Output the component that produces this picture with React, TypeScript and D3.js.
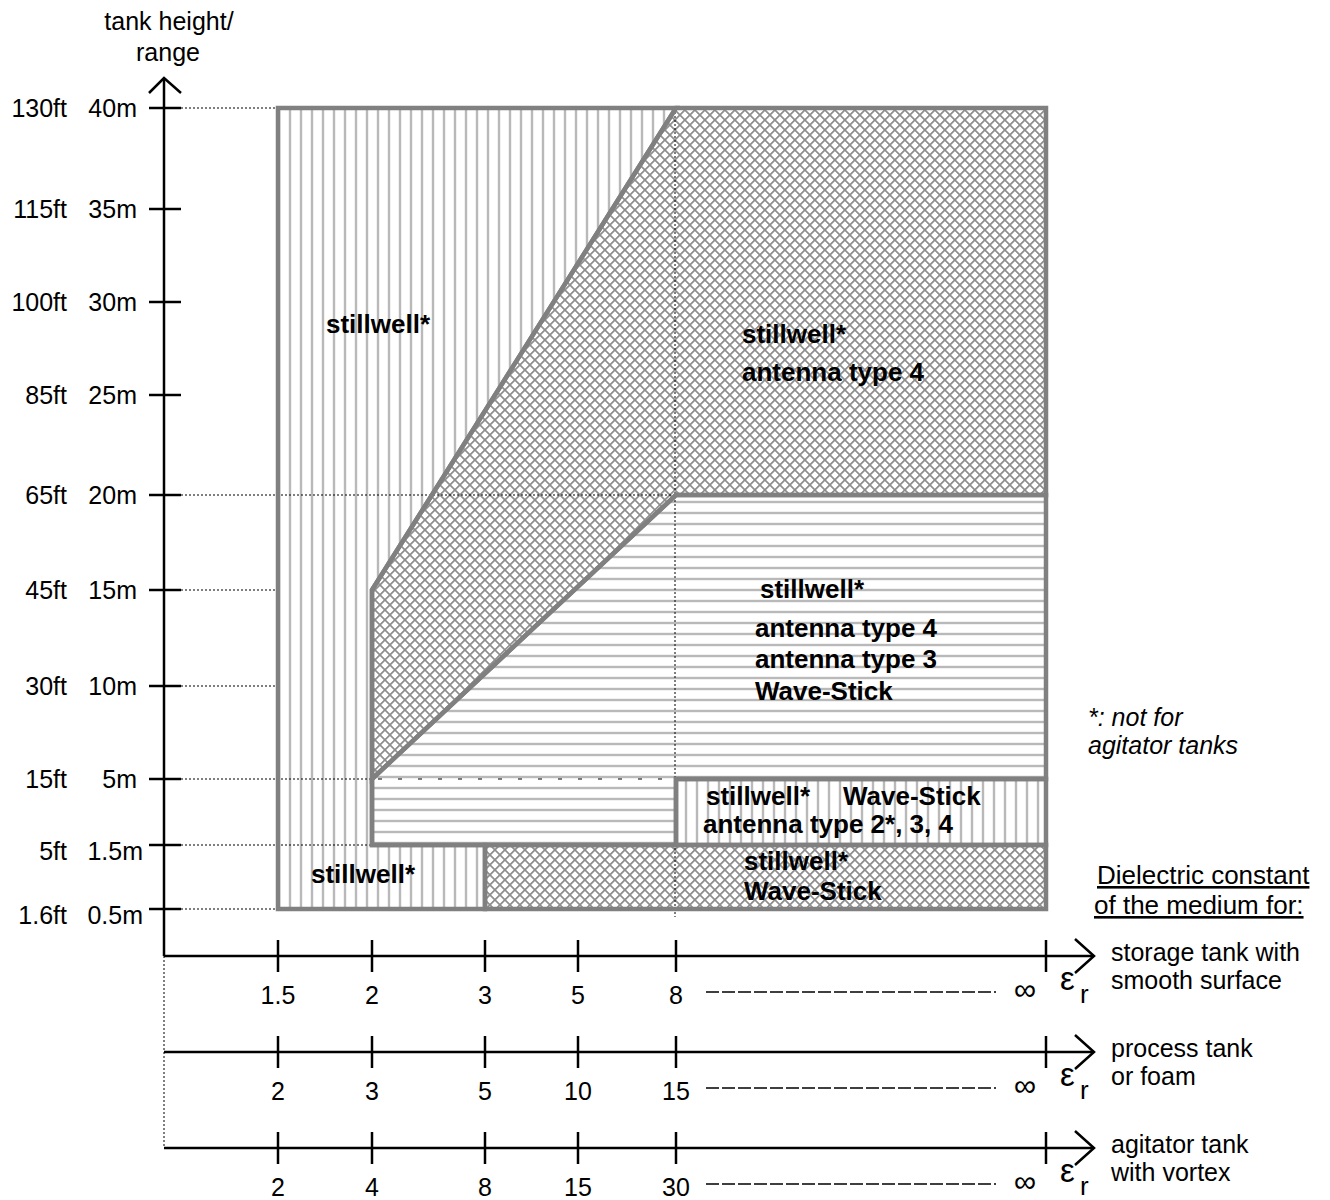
import React from 'react';
import * as d3 from 'd3';

// ---- data ----
const heightM = [0.5, 1.5, 5, 10, 15, 20, 25, 30, 35, 40];
const heightMLabels = ['0.5m', '1.5m', '5m', '10m', '15m', '20m', '25m', '30m', '35m', '40m'];
const heightFtLabels = ['1.6ft', '5ft', '15ft', '30ft', '45ft', '65ft', '85ft', '100ft', '115ft', '130ft'];

const columnIdx = [0, 1, 2, 3, 4, 5];
const storageEps = ['1.5', '2', '3', '5', '8', '∞'];
const processEps = ['2', '3', '5', '10', '15', '∞'];
const agitatorEps = ['2', '4', '8', '15', '30', '∞'];
const mediumAxes = [storageEps, processEps, agitatorEps];
const mediumLabels = [
  ['storage tank with', 'smooth surface'],
  ['process tank', 'or foam'],
  ['agitator tank', 'with vortex'],
];

// regions: [column index, height in m]
const regionStillwell: [number, number][] = [[0, 40], [4, 40], [1, 15], [1, 1.5], [2, 1.5], [2, 0.5], [0, 0.5]];
const regionAntenna4: [number, number][] = [[4, 40], [5, 40], [5, 20], [4, 20], [1, 5], [1, 15]];
const regionAllTypes: [number, number][] = [[1, 5], [4, 20], [5, 20], [5, 5], [4, 5], [4, 1.5], [1, 1.5]];
const regionSmallBox: [number, number][] = [[4, 5], [5, 5], [5, 1.5], [4, 1.5]];
const regionLowCross: [number, number][] = [[2, 1.5], [5, 1.5], [5, 0.5], [2, 0.5]];

// dotted guide lines: height -> column index they reach
const guideHeights = [40, 20, 15, 10, 5, 1.5, 0.5];
const guideEndCol = [0, 4, 0, 0, 1, 1, 0];
// dashed extensions: [height, fromCol, toCol]
const dashedExt: [number, number, number][] = [[5, 1, 4], [1.5, 1, 2]];

// ---- layout ----
const W = 1330, H = 1200;
const x = d3.scaleLinear().domain(columnIdx).range([278, 372, 485, 578, 676, 1046]);
const y = d3.scaleLinear().domain(heightM).range([909, 845, 779, 686, 590, 495, 395, 302, 209, 108]);
const axisX = 164;
const xAxisY = [956, 1052, 1148];
const xAxisEnd = 1094;

const line = d3.line<[number, number]>().x(d => x(d[0])).y(d => y(d[1]));
const poly = (p: [number, number][]) => line(p) + 'Z';

const FONT = 'Liberation Sans, Arial, Helvetica, sans-serif';
const BORDER = '#808080';
const HATCH = '#8e8e8e';

export default function App() {
  const boldLabel = (t: string, px: number, py: number, key: string) => (
    <text key={key} x={px} y={py} fontSize={26} fontWeight="bold" fill="#000">{t}</text>
  );
  return (
    <svg width={W} height={H} style={{ position: 'absolute', left: 0, top: 0, background: '#fff' }}
      fontFamily={FONT}>
      <defs>
        <pattern id="vh" patternUnits="userSpaceOnUse" x={290 - 5.5} y={0} width={11} height={11}>
          <rect width={11} height={11} fill="#fff" />
          <line x1={5.5} y1={0} x2={5.5} y2={11} stroke={HATCH} strokeWidth={1.5} />
        </pattern>
        <pattern id="hh" patternUnits="userSpaceOnUse" x={0} y={502 - 5.5} width={11} height={11}>
          <rect width={11} height={11} fill="#fff" />
          <line x1={0} y1={5.5} x2={11} y2={5.5} stroke={HATCH} strokeWidth={1.5} />
        </pattern>
        <pattern id="ch" patternUnits="userSpaceOnUse" width={7.07} height={7.07} patternTransform="rotate(45)">
          <rect width={7.07} height={7.07} fill="#fff" />
          <line x1={3.535} y1={0} x2={3.535} y2={7.07} stroke={HATCH} strokeWidth={1.8} />
          <line x1={0} y1={3.535} x2={7.07} y2={3.535} stroke={HATCH} strokeWidth={1.8} />
        </pattern>
      </defs>

      <rect width={W} height={H} fill="#fff" />

      {/* fills */}
      <path d={poly(regionStillwell)} fill="url(#vh)" />
      <path d={poly(regionAntenna4)} fill="url(#ch)" />
      <path d={poly(regionAllTypes)} fill="url(#hh)" />
      <path d={poly(regionSmallBox)} fill="url(#vh)" />
      <path d={poly(regionLowCross)} fill="url(#ch)" />

      {/* dotted guides */}
      {guideHeights.map((h, i) => (
        <line key={'g' + i} x1={181} x2={x(guideEndCol[i])} y1={y(h)} y2={y(h)}
          stroke="#000" strokeWidth={1} strokeDasharray="2 2" />
      ))}
      {dashedExt.map(([h, c0, c1], i) => (
        <line key={'d' + i} x1={x(c0) + 6} x2={x(c1)} y1={y(h)} y2={y(h)}
          stroke="#000" strokeWidth={1.2} strokeDasharray="4 16" />
      ))}
      <line x1={x(4) - 1} x2={x(4) - 1} y1={y(40)} y2={y(0.5) + 8} stroke="#000" strokeWidth={1} strokeDasharray="2 2" />
      <line x1={axisX} x2={axisX} y1={xAxisY[0]} y2={xAxisY[2]} stroke="#000" strokeWidth={1} strokeDasharray="2 2" />

      {/* region borders */}
      {[regionStillwell, regionAntenna4, regionAllTypes, regionSmallBox, regionLowCross].map((p, i) => (
        <path key={'b' + i} d={poly(p)} fill="none" stroke={BORDER} strokeWidth={4.5} strokeLinejoin="miter" />
      ))}

      {/* region labels */}
      {boldLabel('stillwell*', 326, 333, 'l1')}
      {boldLabel('stillwell*', 742, 343, 'l2')}
      {boldLabel('antenna type 4', 742, 381, 'l3')}
      {boldLabel('stillwell*', 760, 598, 'l4')}
      {boldLabel('antenna type 4', 755, 637, 'l5')}
      {boldLabel('antenna type 3', 755, 668, 'l6')}
      {boldLabel('Wave-Stick', 755, 700, 'l7')}
      {boldLabel('stillwell*', 706, 805, 'l8')}
      {boldLabel('Wave-Stick', 843, 805, 'l9')}
      {boldLabel('antenna type 2*, 3, 4', 703, 833, 'l10')}
      {boldLabel('stillwell*', 744, 870, 'l11')}
      {boldLabel('Wave-Stick', 744, 900, 'l12')}
      {boldLabel('stillwell*', 311, 883, 'l13')}

      {/* y axis */}
      <line x1={axisX} x2={axisX} y1={78} y2={xAxisY[0]} stroke="#000" strokeWidth={2.5} />
      <polyline points={`${axisX - 15},93 ${axisX},78 ${axisX + 17},93`} fill="none" stroke="#000" strokeWidth={2.5} />
      {heightM.map((h, i) => {
        const dy = h < 5 ? 15 : 9;
        const dx = h < 5 ? 6 : 0;
        return (
          <g key={'yt' + i}>
            <line x1={149} x2={181} y1={y(h)} y2={y(h)} stroke="#000" strokeWidth={2.5} />
            <text x={137 + dx} y={y(h) + dy} fontSize={25} textAnchor="end">{heightMLabels[i]}</text>
            <text x={67} y={y(h) + dy} fontSize={25} textAnchor="end">{heightFtLabels[i]}</text>
          </g>
        );
      })}
      <text x={169} y={30} fontSize={25} textAnchor="middle">tank height/</text>
      <text x={168} y={61} fontSize={25} textAnchor="middle">range</text>

      {/* x axes */}
      {mediumAxes.map((labels, a) => {
        const ay = xAxisY[a];
        return (
          <g key={'xa' + a}>
            <line x1={axisX} x2={xAxisEnd} y1={ay} y2={ay} stroke="#000" strokeWidth={2.5} />
            <polyline points={`${xAxisEnd - 19},${ay - 17} ${xAxisEnd},${ay} ${xAxisEnd - 19},${ay + 17}`}
              fill="none" stroke="#000" strokeWidth={2.5} />
            {columnIdx.map((c, i) => (
              <line key={'xt' + i} x1={x(c)} x2={x(c)} y1={ay - 16} y2={ay + 16} stroke="#000" strokeWidth={2.5} />
            ))}
            {labels.slice(0, 5).map((t, i) => (
              <text key={'xl' + i} x={x(columnIdx[i])} y={ay + 48} fontSize={25} textAnchor="middle">{t}</text>
            ))}
            <line x1={x(4) + 30} x2={x(5) - 50} y1={ay + 36} y2={ay + 36} stroke="#000" strokeWidth={1.3} strokeDasharray="13 3" />
            <text x={x(5) - 21} y={ay + 44} fontSize={31} textAnchor="middle">{labels[5]}</text>
            <text x={1060} y={ay + 34} fontSize={33}>ε</text>
            <text x={1080} y={ay + 47} fontSize={26}>r</text>
            <text x={1111} y={ay + 5} fontSize={25}>{mediumLabels[a][0]}</text>
            <text x={1111} y={ay + 33} fontSize={25}>{mediumLabels[a][1]}</text>
          </g>
        );
      })}

      {/* notes */}
      <text x={1088} y={726} fontSize={25} fontStyle="italic">*: not for</text>
      <text x={1088} y={754} fontSize={25} fontStyle="italic">agitator tanks</text>
      <text x={1097} y={884} fontSize={26} style={{ textDecoration: 'underline' }}>Dielectric constant</text>
      <text x={1094} y={914} fontSize={26} style={{ textDecoration: 'underline' }}>of the medium for:</text>
    </svg>
  );
}
